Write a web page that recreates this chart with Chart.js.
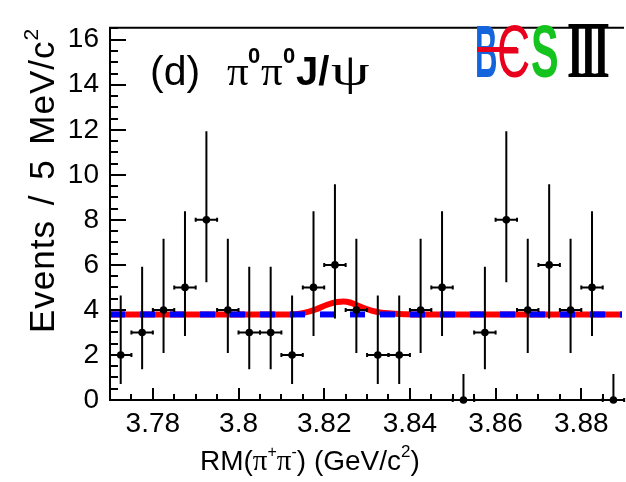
<!DOCTYPE html>
<html>
<head>
<meta charset="utf-8">
<script src="https://cdn.jsdelivr.net/npm/chart.js@4.4.0/dist/chart.umd.min.js"></script>
<style>
  html, body { margin: 0; padding: 0; background: #fff; }
  #wrap { width: 626px; height: 482px; position: relative; }
</style>
</head>
<body>
<div id="wrap"><canvas id="c"></canvas></div>
<script>
// RM(pi+pi-) spectrum, pi0 pi0 J/psi channel, 5 MeV/c^2 bins
const binCenters = [3.7725, 3.7775, 3.7825, 3.7875, 3.7925, 3.7975, 3.8025, 3.8075,
                    3.8125, 3.8175, 3.8225, 3.8275, 3.8325, 3.8375, 3.8425, 3.8475,
                    3.8525, 3.8575, 3.8625, 3.8675, 3.8725, 3.8775, 3.8825, 3.8875];
const counts     = [2, 3, 4, 5, 8, 4, 3, 3, 2, 5, 6, 4, 2, 2, 4, 5, 0, 3, 8, 4, 6, 4, 5, 0];
// asymmetric poisson errors (lower / upper edge of each bar)
const errLow  = [0.71, 1.37, 2.09, 2.84, 5.23, 2.09, 1.37, 1.37, 0.71, 2.84, 3.62, 2.09,
                 0.71, 0.71, 2.09, 2.84, 0, 1.37, 5.23, 2.09, 3.62, 2.09, 2.84, 0];
const errHigh = [4.64, 5.92, 7.16, 8.38, 11.94, 7.16, 5.92, 5.92, 4.64, 8.38, 9.58, 7.16,
                 4.64, 4.64, 7.16, 8.38, 1.15, 5.92, 11.94, 7.16, 9.58, 7.16, 8.38, 1.15];
const binHalfWidth = 0.0025;

// fit results: flat background and background + signal
const bkgX = [3.77, 3.8895];
const bkgY = [3.80, 3.80];
const totX = [3.770, 3.812, 3.815, 3.818, 3.8205, 3.823, 3.8245, 3.826, 3.8285, 3.8315, 3.835, 3.839, 3.843, 3.8895];
const totY = [3.80, 3.80, 3.86, 4.02, 4.22, 4.35, 4.37, 4.33, 4.14, 3.95, 3.85, 3.81, 3.80, 3.80];

const xTicks = [3.78, 3.80, 3.82, 3.84, 3.86, 3.88];
const xTickLabels = ['3.78', '3.8', '3.82', '3.84', '3.86', '3.88'];
const yTicks = [0, 2, 4, 6, 8, 10, 12, 14, 16];
const yTickLabels = ['0', '2', '4', '6', '8', '10', '12', '14', '16'];

const SANS = 'Liberation Sans, Arial, Helvetica, sans-serif';
const SERIF = 'Liberation Serif, Times New Roman, serif';

function drawParts(ctx, parts, baseY) {
  parts.forEach(p => {
    ctx.save();
    ctx.font = p.font;
    ctx.fillStyle = p.color || '#000';
    ctx.translate(p.x, baseY - (p.rise || 0));
    if (p.sx) ctx.scale(p.sx, 1);
    ctx.fillText(p.t, 0, 0);
    ctx.restore();
  });
}

// draws a run of text pieces one after another
function drawRun(ctx, x, y, parts) {
  parts.forEach(p => {
    ctx.font = p.font;
    ctx.fillText(p.t, x, y - (p.rise || 0));
    x += ctx.measureText(p.t).width + (p.gap || 0);
  });
}

const errorBars = {
  id: 'errorBars',
  afterDatasetsDraw(chart) {
    const { ctx, scales: { x, y } } = chart;
    ctx.save();
    ctx.strokeStyle = '#000';
    ctx.lineWidth = 2;
    binCenters.forEach((c, i) => {
      const px = x.getPixelForValue(c);
      const py = y.getPixelForValue(counts[i]);
      const xl = x.getPixelForValue(c - binHalfWidth);
      const xr = x.getPixelForValue(c + binHalfWidth);
      ctx.beginPath();
      ctx.moveTo(px, y.getPixelForValue(errLow[i]));
      ctx.lineTo(px, y.getPixelForValue(errHigh[i]));
      ctx.moveTo(xl, py);
      ctx.lineTo(xr, py);
      ctx.moveTo(xl, py - 2); ctx.lineTo(xl, py + 2);
      ctx.moveTo(xr, py - 2); ctx.lineTo(xr, py + 2);
      ctx.stroke();
    });
    ctx.restore();
  }
};

const frameAndText = {
  id: 'frameAndText',
  afterDraw(chart) {
    const { ctx, chartArea: a, scales: { x, y } } = chart;
    ctx.save();
    ctx.strokeStyle = '#000';
    ctx.fillStyle = '#000';
    ctx.lineWidth = 2;

    // frame (right edge falls outside the canvas)
    ctx.beginPath();
    ctx.moveTo(a.right + 2, a.top);
    ctx.lineTo(a.left, a.top);
    ctx.lineTo(a.left, a.bottom);
    ctx.lineTo(a.right + 2, a.bottom);
    ctx.stroke();

    // inward ticks, major + minor
    ctx.beginPath();
    for (let k = 0; k <= 33; k++) {
      const py = Math.round(y.getPixelForValue(k * 0.5));
      const len = (k % 4 === 0) ? 16 : 8;
      ctx.moveTo(a.left, py);
      ctx.lineTo(a.left + len, py);
    }
    for (let k = 1; k <= 23; k++) {
      const px = Math.round(x.getPixelForValue(3.77 + k * 0.005));
      const len = ((k - 2) % 4 === 0) ? 12 : 6;
      ctx.moveTo(px, a.bottom);
      ctx.lineTo(px, a.bottom - len);
    }
    ctx.stroke();

    ctx.textBaseline = 'alphabetic';
    ctx.textAlign = 'left';

    // x axis title
    drawRun(ctx, 200, 470, [
      { t: 'RM(', font: `28px ${SANS}` },
      { t: 'π', font: `29px ${SERIF}` },
      { t: '+', font: `16px ${SANS}`, rise: 13 },
      { t: 'π', font: `29px ${SERIF}` },
      { t: '-', font: `16px ${SANS}`, rise: 13 },
      { t: ') (GeV/c', font: `28px ${SANS}` },
      { t: '2', font: `17px ${SANS}`, rise: 13 },
      { t: ')', font: `28px ${SANS}` }
    ]);

    // y axis title, rotated
    ctx.save();
    ctx.translate(54, 333);
    ctx.rotate(-Math.PI / 2);
    ctx.letterSpacing = '1px';
    ctx.wordSpacing = '4px';
    drawRun(ctx, 0, 0, [
      { t: 'Events / 5 MeV/c', font: `35px ${SANS}` },
      { t: '2', font: `21px ${SANS}`, rise: 16 }
    ]);
    ctx.restore();

    // channel label
    drawParts(ctx, [
      { t: '(d)', x: 150, font: `41px ${SANS}` },
      { t: 'π', x: 227, font: `43px ${SERIF}` },
      { t: '0', x: 248, font: `bold 22px ${SANS}` , rise: 22 },
      { t: 'π', x: 261, font: `43px ${SERIF}` },
      { t: '0', x: 283, font: `bold 22px ${SANS}`, rise: 22 },
      { t: 'J/', x: 296, font: `bold 40px ${SANS}` },
      { t: 'ψ', x: 331, font: `44px ${SERIF}`, sx: 1.4 }
    ], 85);

    // BESIII logo
    drawParts(ctx, [
      { t: 'B', x: 475, font: `bold 74px ${SANS}`, sx: 0.42, color: '#1464dc' },
      { t: 'Є', x: 497, font: `74px ${SANS}`, sx: 0.62, color: '#e8001c' },
      { t: 'S', x: 531, font: `bold 74px ${SANS}`, sx: 0.56, color: '#14c31e' }
    ], 77);
    ctx.fillStyle = '#e8001c';
    ctx.fillRect(477, 47, 40, 5);
    ctx.save();
    ctx.font = `bold 80px ${SERIF}`;
    ctx.letterSpacing = '-7px';
    ctx.translate(567, 77);
    ctx.scale(0.54, 1);
    ctx.fillStyle = '#000';
    ctx.fillText('III', 0, 0);
    ctx.restore();

    ctx.restore();
  }
};

new Chart(document.getElementById('c'), {
  type: 'scatter',
  data: {
    datasets: [
      {
        label: 'data',
        data: binCenters.map((c, i) => ({ x: c, y: counts[i] })),
        pointRadius: 3.8,
        pointBackgroundColor: '#000',
        pointBorderWidth: 0,
        clip: false,
        order: 1
      },
      {
        label: 'background',
        data: bkgX.map((v, i) => ({ x: v, y: bkgY[i] })),
        showLine: true,
        borderColor: '#0000ff',
        borderWidth: 6,
        borderDash: [15, 15],
        pointRadius: 0,
        order: 2
      },
      {
        label: 'total fit',
        data: totX.map((v, i) => ({ x: v, y: totY[i] })),
        showLine: true,
        borderColor: '#ff0000',
        borderWidth: 6,
        cubicInterpolationMode: 'monotone',
        pointRadius: 0,
        order: 3
      }
    ]
  },
  options: {
    responsive: true,
    maintainAspectRatio: false,
    animation: false,
    devicePixelRatio: 1,
    layout: { padding: { top: 6, right: 0, left: 0, bottom: 0 } },
    plugins: { legend: { display: false }, tooltip: { enabled: false } },
    scales: {
      x: {
        type: 'linear',
        min: 3.77,
        max: 3.8895,
        grid: { display: false, drawTicks: false },
        border: { display: false },
        afterBuildTicks: s => { s.ticks = xTicks.map(v => ({ value: v })); },
        afterFit: s => { s.height = 82; },
        ticks: {
          padding: 7,
          color: '#000',
          font: { family: SANS, size: 28 },
          maxRotation: 0,
          autoSkip: false,
          callback: (v, i) => xTickLabels[i]
        }
      },
      y: {
        min: 0,
        max: 16.53,
        grid: { display: false, drawTicks: false },
        border: { display: false },
        afterBuildTicks: s => { s.ticks = yTicks.map(v => ({ value: v })); },
        afterFit: s => { s.width = 110; },
        ticks: {
          padding: 11,
          color: '#000',
          font: { family: SANS, size: 28 },
          autoSkip: false,
          callback: (v, i) => yTickLabels[i]
        }
      }
    }
  },
  plugins: [errorBars, frameAndText]
});
</script>
</body>
</html>
